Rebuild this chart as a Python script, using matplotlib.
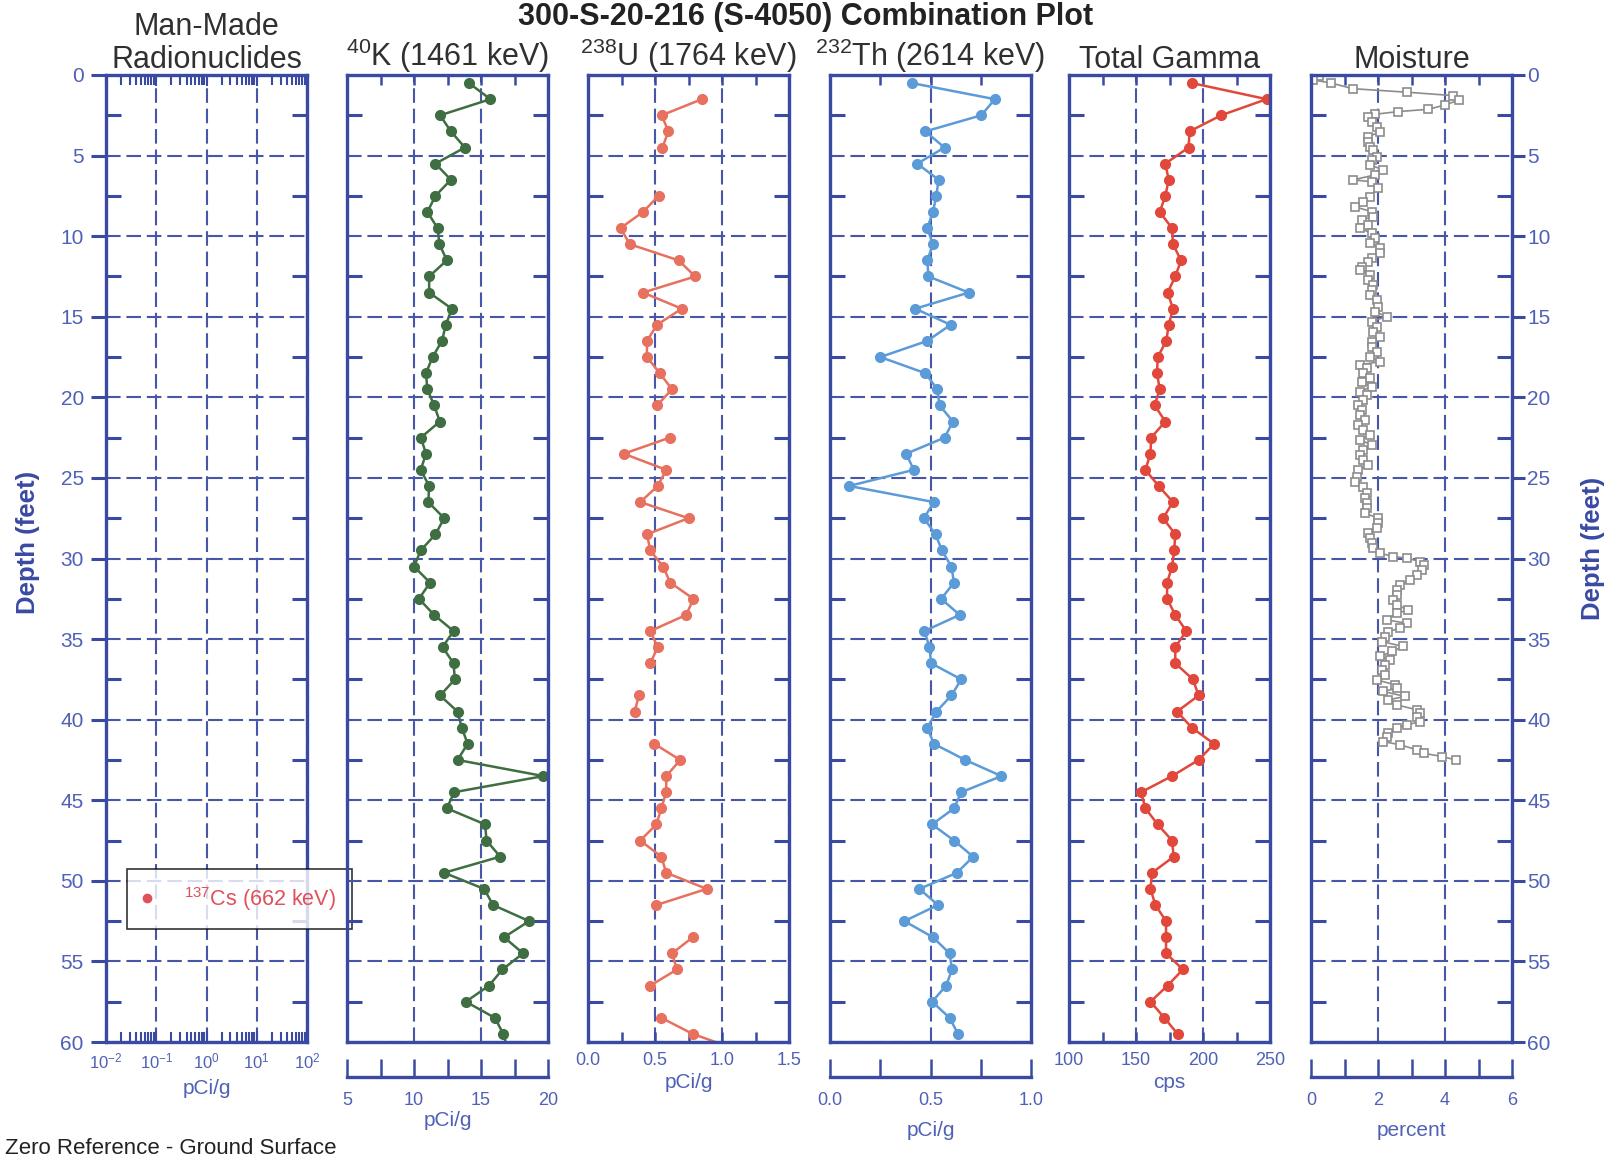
import numpy as np
import matplotlib
matplotlib.use("Agg")
import matplotlib.pyplot as plt
from matplotlib.ticker import MultipleLocator, LogLocator, NullFormatter, FormatStrFormatter

plt.rcParams['font.family'] = ['Liberation Sans', 'DejaVu Sans']
plt.rcParams['mathtext.fontset'] = 'custom'
plt.rcParams['mathtext.rm'] = 'Liberation Sans'
plt.rcParams['mathtext.it'] = 'Liberation Sans:italic'
plt.rcParams['mathtext.bf'] = 'Liberation Sans:bold'

# ---------------- data ----------------
depth = [0.5, 1.5, 2.5, 3.5, 4.5, 5.5, 6.5, 7.5, 8.5, 9.5,
         10.5, 11.5, 12.5, 13.5, 14.5, 15.5, 16.5, 17.5, 18.5, 19.5,
         20.5, 21.5, 22.5, 23.5, 24.5, 25.5, 26.5, 27.5, 28.5, 29.5,
         30.5, 31.5, 32.5, 33.5, 34.5, 35.5, 36.5, 37.5, 38.5, 39.5,
         40.5, 41.5, 42.5, 43.5, 44.5, 45.5, 46.5, 47.5, 48.5, 49.5,
         50.5, 51.5, 52.5, 53.5, 54.5, 55.5, 56.5, 57.5, 58.5, 59.5,
         60.5]

nan = float('nan')

k40 = [14.1, 15.7, 11.95, 12.75, 13.8, 11.6, 12.75, 11.6, 11.0, 11.76,
       11.9, 12.45, 11.13, 11.13, 12.82, 12.38, 12.08, 11.39, 10.89, 11.0,
       11.5, 11.93, 10.51, 10.9, 10.5, 11.13, 11.07, 12.25, 11.6, 10.5,
       10.0, 11.2, 10.37, 11.5, 12.95, 12.13, 12.95, 13.05, 11.95, 13.25,
       13.57, 14.0, 13.25, 19.66, 13.0, 12.45, 15.31, 15.41, 16.43, 12.25,
       15.23, 15.9, 18.59, 16.72, 18.14, 16.6, 15.6, 13.87, 16.03, 16.67,
       17.0]

u238 = [nan, 0.85, 0.55, 0.60, 0.555, nan, nan, 0.527, 0.41, 0.243,
        0.312, 0.676, 0.80, 0.41, 0.70, 0.515, 0.44, 0.44, 0.535, 0.627,
        0.515, nan, 0.61, 0.267, 0.584, 0.52, 0.39, 0.75, 0.44, 0.465,
        0.56, 0.614, 0.787, 0.733, 0.465, 0.52, 0.465, nan, 0.379, 0.349,
        nan, 0.495, 0.688, 0.584, 0.584, 0.547, 0.51, 0.39, 0.547, 0.584,
        0.886, 0.51, nan, 0.782, 0.627, 0.664, 0.465, nan, 0.547, 0.782,
        1.12]

th232 = [0.407, 0.82, 0.753, 0.474, 0.57, 0.434, 0.54, 0.529, 0.512, 0.484,
         0.512, 0.484, 0.49, 0.69, 0.424, 0.60, 0.484, 0.25, 0.474, 0.534,
         0.545, 0.612, 0.57, 0.379, 0.417, 0.095, 0.517, 0.467, 0.525, 0.557,
         0.604, 0.617, 0.553, 0.645, 0.47, 0.495, 0.503, 0.653, 0.604, 0.529,
         0.484, 0.517, 0.673, 0.853, 0.653, 0.617, 0.508, 0.617, 0.712, 0.632,
         0.445, 0.537, 0.37, 0.512, 0.595, 0.607, 0.578, 0.508, 0.595, 0.637,
         nan]

total_gamma = [191.7, 247.5, 213.5, 190.0, 189.2, 171.9, 174.4, 171.9, 167.7, 176.9,
               177.6, 183.6, 179.3, 173.6, 177.6, 174.4, 172.6, 166.2, 165.7, 167.7,
               163.9, 171.9, 161.3, 160.8, 157.0, 166.9, 177.6, 170.2, 179.3, 178.5,
               176.9, 173.2, 173.2, 179.3, 187.5, 179.3, 179.3, 192.5, 196.7, 180.6,
               191.7, 208.3, 196.7, 176.9, 153.8, 157.0, 166.2, 176.9, 178.1, 162.0,
               160.8, 164.5, 172.4, 172.4, 172.4, 185.0, 173.6, 160.8, 171.2, 181.0,
               nan]

moist_depth = [0.05, 0.30, 0.50, 0.85, 1.07, 1.28, 1.55, 1.86, 2.13, 2.27,
               2.44, 2.60, 2.90, 3.21, 3.52, 3.83, 4.14, 4.45, 4.65, 5.07,
               5.27, 5.58, 5.89, 6.20, 6.51, 6.62, 7.03, 7.55, 7.86, 8.17,
               8.48, 8.79, 8.99, 9.31, 9.51, 9.82, 10.13, 10.44, 10.75, 11.06,
               11.37, 11.58, 11.89, 12.10, 12.41, 12.72, 13.03, 13.34, 13.65, 13.96,
               14.37, 14.68, 14.99, 15.30, 15.61, 15.92, 16.23, 16.54, 16.85, 17.16,
               17.47, 17.78, 17.99, 18.20, 18.51, 18.82, 19.03, 19.33, 19.64, 19.85,
               20.16, 20.47, 20.78, 21.09, 21.40, 21.71, 22.02, 22.33, 22.64, 22.95,
               23.26, 23.57, 23.88, 24.19, 24.50, 24.92, 25.23, 25.54, 25.95, 26.26,
               26.57, 26.88, 27.19, 27.50, 27.81, 28.12, 28.43, 28.74, 29.05, 29.36,
               29.67, 29.88, 29.98, 30.19, 30.40, 30.71, 31.02, 31.33, 31.64, 31.95,
               32.26, 32.57, 32.88, 33.19, 33.40, 33.81, 34.02, 34.33, 34.53, 34.84,
               35.15, 35.46, 35.77, 36.08, 36.29, 36.60, 36.91, 37.22, 37.53, 37.84,
               38.05, 38.25, 38.56, 38.77, 39.08, 39.39, 39.60, 39.81, 40.12, 40.32,
               40.53, 40.84, 41.05, 41.36, 41.56, 41.87, 42.08, 42.29, 42.49]

moisture = [0.25, 0.05, 0.60, 1.25, 2.88, 4.25, 4.42, 4.00, 3.50, 2.60,
            1.90, 1.70, 1.81, 1.96, 2.06, 1.71, 1.71, 1.76, 1.86, 1.98,
            1.81, 1.76, 2.16, 1.91, 1.25, 1.81, 2.01, 1.76, 1.56, 1.30,
            1.81, 1.86, 1.51, 1.71, 1.46, 1.81, 1.91, 1.76, 2.06, 2.06,
            1.81, 1.71, 1.51, 1.46, 1.76, 1.71, 1.86, 1.81, 1.76, 1.96,
            2.01, 1.91, 2.26, 1.81, 1.96, 1.86, 2.06, 1.81, 1.81, 1.96,
            1.76, 2.06, 1.46, 1.66, 1.56, 1.76, 1.51, 1.81, 1.46, 1.66,
            1.56, 1.41, 1.51, 1.46, 1.61, 1.41, 1.56, 1.76, 1.46, 1.81,
            1.56, 1.46, 1.56, 1.71, 1.41, 1.36, 1.30, 1.56, 1.66, 1.61,
            1.66, 1.66, 1.61, 2.01, 2.01, 1.96, 1.71, 1.76, 1.81, 1.86,
            2.06, 2.46, 2.86, 3.26, 3.36, 3.31, 3.16, 2.96, 2.66, 2.56,
            2.56, 2.46, 2.56, 2.91, 2.56, 2.26, 2.86, 2.66, 2.31, 2.21,
            2.11, 2.76, 2.41, 2.06, 2.36, 2.21, 2.11, 2.21, 1.96, 2.51,
            2.56, 2.16, 2.81, 2.31, 2.56, 3.16, 3.26, 3.16, 3.26, 2.86,
            2.56, 2.31, 2.26, 2.16, 2.66, 3.16, 3.36, 3.91, 4.32]

panel_titles = ["Man-Made\nRadionuclides", r"$^{40}$K (1461 keV)", r"$^{238}$U (1764 keV)",
                r"$^{232}$Th (2614 keV)", "Total Gamma", "Moisture"]
x_labels = ["pCi/g", "pCi/g", "pCi/g", "pCi/g", "cps", "percent"]
legend_label = r"$^{137}$Cs (662 keV)"
plot_title = "300-S-20-216 (S-4050) Combination Plot"
footnote = "Zero Reference - Ground Surface"
y_label = "Depth (feet)"

# ---------------- style ----------------
BLUE = '#3a4aa3'
GRID = '#4656a8'
TICKC = '#4f61b6'
TITLEC = '#303030'
K_C = '#3e6e42'
U_C = '#e8705e'
TH_C = '#5b9bd8'
TG_C = '#e2473b'
M_C = '#8c8c8c'
CS_C = '#e0505a'

W, H = 1614, 1161
TOP, BOT, PW = 75, 1042, 201
lefts = [106, 347, 588, 830, 1069, 1311]
label_y = [1089, 1120, 1083, 1131, 1083, 1131]

fig = plt.figure(figsize=(W / 100, H / 100), dpi=100)
fig.patch.set_facecolor('white')

specs = [
    dict(log=True, xlim=(1e-2, 1e2)),
    dict(xlim=(5, 20), major=5, minor=2.5, fmt='%d', offset=True),
    dict(xlim=(0, 1.5), major=0.5, minor=0.25, fmt='%.1f', offset=False),
    dict(xlim=(0, 1.0), major=0.5, minor=0.25, fmt='%.1f', offset=True),
    dict(xlim=(100, 250), major=50, minor=25, fmt='%d', offset=False),
    dict(xlim=(0, 6), major=2, minor=1, fmt='%d', offset=True),
]

DASH = (0, (7, 2.8))
axes = []
for i, (lp, sp) in enumerate(zip(lefts, specs)):
    ax = fig.add_axes([lp / W, 1 - BOT / H, PW / W, (BOT - TOP) / H])
    ax.patch.set_visible(False)
    ax.set_ylim(60, 0)
    if sp.get('log'):
        ax.set_xscale('log')
    ax.set_xlim(*sp['xlim'])
    for s in ax.spines.values():
        s.set_color(BLUE)
        s.set_linewidth(2.4)
    ax.yaxis.set_major_locator(MultipleLocator(5))
    ax.yaxis.set_minor_locator(MultipleLocator(2.5))
    ax.tick_params(axis='y', which='major', left=False, right=False,
                   labelleft=False, labelright=False)
    ax.tick_params(axis='y', which='minor', left=True, right=True,
                   direction='in', length=11, width=2.2, color=BLUE)
    ax.grid(True, which='major', axis='both', color=GRID, linestyle=DASH, linewidth=1.5)

    if sp.get('log'):
        ax.xaxis.set_major_locator(LogLocator(base=10, numticks=10))
        ax.xaxis.set_minor_locator(LogLocator(base=10, subs=np.arange(2, 10), numticks=10))
        ax.xaxis.set_minor_formatter(NullFormatter())
        ax.tick_params(axis='x', which='both', bottom=True, top=True, direction='in',
                       width=1.5, color=BLUE, labelsize=12, labelcolor=TICKC, pad=7)
        ax.tick_params(axis='x', which='major', length=8)
        ax.tick_params(axis='x', which='minor', length=7)
    else:
        ax.xaxis.set_major_locator(MultipleLocator(sp['major']))
        ax.xaxis.set_minor_locator(MultipleLocator(sp['minor']))
        if sp['offset']:
            ax.tick_params(axis='x', which='both', bottom=False, top=True,
                           labelbottom=False, direction='in', length=7, width=1.8, color=BLUE)
            sec = ax.secondary_xaxis(-0.036)
            sec.xaxis.set_major_locator(MultipleLocator(sp['major']))
            sec.xaxis.set_minor_locator(MultipleLocator(sp['minor']))
            sec.xaxis.set_major_formatter(FormatStrFormatter(sp['fmt']))
            sec.tick_params(axis='x', which='both', direction='in', length=13, width=1.8,
                            color=BLUE, labelsize=13, labelcolor=TICKC, pad=11)
            sec.spines['bottom'].set_color(BLUE)
            sec.spines['bottom'].set_linewidth(2.4)
        else:
            ax.xaxis.set_major_formatter(FormatStrFormatter(sp['fmt']))
            ax.tick_params(axis='x', which='both', bottom=True, top=True, direction='in',
                           length=7, width=1.8, color=BLUE, labelsize=13,
                           labelcolor=TICKC, pad=7)

    ax.set_title(panel_titles[i], fontsize=22, color=TITLEC, pad=5, linespacing=1.12)
    ax.text(0.5, -(label_y[i] - BOT) / (BOT - TOP), x_labels[i], transform=ax.transAxes,
            ha='center', va='center', fontsize=15, color=TICKC)
    axes.append(ax)

# depth tick labels on the outer sides
axes[0].tick_params(axis='y', which='major', left=True, labelleft=True, direction='out',
                    length=11, width=2.2, color=BLUE, labelsize=15, labelcolor=TICKC, pad=5)
axes[-1].tick_params(axis='y', which='major', right=True, labelright=True, direction='out',
                     length=9, width=2.2, color=BLUE, labelsize=15, labelcolor=TICKC, pad=2)

# data
axes[1].plot(k40, depth, '-o', color=K_C, ms=7, lw=1.8)
axes[2].plot(u238, depth, '-o', color=U_C, ms=7, lw=1.8)
axes[3].plot(th232, depth, '-o', color=TH_C, ms=7, lw=1.8)
axes[4].plot(total_gamma, depth, '-o', color=TG_C, ms=7, lw=1.8)
axes[5].plot(moisture, moist_depth, '-s', color=M_C, mfc='white', mec=M_C,
             ms=5.5, mew=1.2, lw=1.2)

# legend for man-made radionuclides
h, = axes[0].plot([], [], 'o', color=CS_C, ms=6, label=legend_label)
leg = axes[0].legend(handles=[h], loc='center left', bbox_to_anchor=(0.104, 0.148),
                     frameon=True, fancybox=False, edgecolor='black', fontsize=15.5,
                     labelcolor=CS_C, borderpad=0.75, handlelength=0.4,
                     handletextpad=1.5, borderaxespad=0)
leg.get_frame().set_linewidth(1.2)

# figure texts
fig.text(28 / W, 1 - 542 / H, y_label, rotation=90, ha='center', va='center',
         fontsize=18.5, fontweight='bold', color=BLUE)
fig.text(1593 / W, 1 - 548 / H, y_label, rotation=90, ha='center', va='center',
         fontsize=18.5, fontweight='bold', color=BLUE)
fig.text(5 / W, 1 - 1148 / H, footnote, ha='left', va='center', fontsize=16, color='#222222')
fig.text(0.499, 1 - 2 / H, plot_title, ha='center', va='top', fontsize=22,
         fontweight='bold', color='#222222')

fig.savefig('out.png', dpi=100)
